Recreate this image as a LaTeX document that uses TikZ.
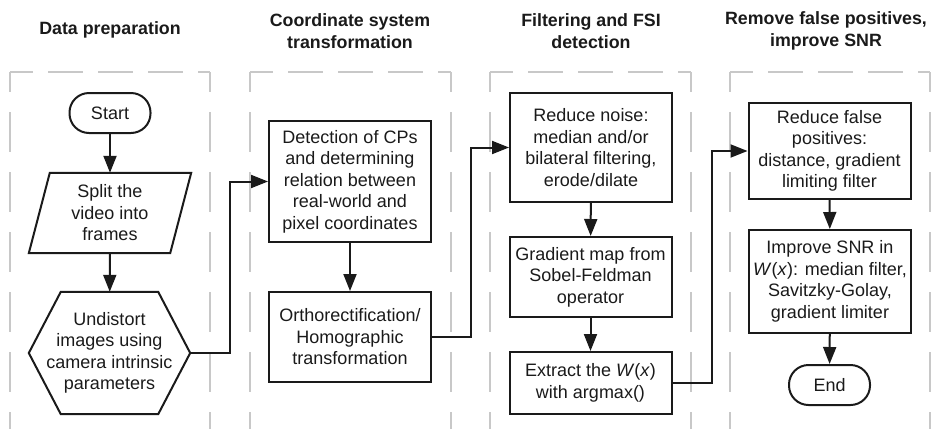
\documentclass[tikz,border=0pt]{standalone}
\usepackage{fontspec}
\setmainfont{Liberation Sans}
\usetikzlibrary{arrows.meta}
\definecolor{ink}{HTML}{1A1A1A}
\definecolor{lanegray}{HTML}{C8C8C8}
\begin{document}
\begin{tikzpicture}[x=1pt,y=-1pt,
  every node/.style={text=ink, font=\fontsize{18}{21.5}\selectfont, align=center, inner sep=0pt},
  box/.style={draw=ink, line width=2pt, rectangle, minimum width=162pt},
  term/.style={draw=ink, line width=2pt, rectangle, rounded corners=19.5pt, minimum width=81pt, minimum height=40pt},
  shell/.style={rectangle, draw=none},
  outline/.style={draw=ink, line width=2pt},
  head/.style={font=\bfseries\fontsize{17.8}{22}\selectfont},
  flow/.style={draw=ink, line width=2pt, -{Triangle[length=17pt,width=13pt]}},
  lanev/.style={draw=lanegray, line width=1.5pt, dash pattern=on 40pt off 20pt, dash phase=20pt},
  laneh/.style={draw=lanegray, line width=1.5pt, dash pattern=on 35pt off 15pt, dash phase=12pt},
]
\useasboundingbox (0,0) rectangle (933,429);

% swimlane borders (open at the bottom)
\foreach \l/\r in {10/210, 250/451, 490/691, 730/930} {
  \draw[lanev] (\l,72) -- (\l,429);
  \draw[lanev] (\r,72) -- (\r,429);
  \draw[laneh] (\l,72) -- (\r,72);
}

% lane titles
\node[head] (h1) at (110,30) {Data preparation};
\node[head] (h2) at (350,31) {Coordinate system\\transformation};
\node[head] (h3) at (591,31) {Filtering and FSI\\detection};
\node[head] (h4) at (826,31) {Remove false positives,\\improve SNR};

% lane 1: data preparation
\node[term] (start) at (110,113) {Start};
\node[shell, minimum width=162pt, minimum height=80pt] (split) at (110,213) {Split the\\video into\\frames};
\draw[outline] ([xshift=21pt]split.north west) -- (split.north east)
  -- ([xshift=-21pt]split.south east) -- (split.south west) -- cycle;
\node[shell, minimum width=161pt, minimum height=122pt] (undist) at (109.5,353)
  {Undistort\\images using\\camera intrinsic\\parameters};
\draw[outline] ([xshift=32pt]undist.north west) -- ([xshift=-32pt]undist.north east)
  -- (undist.east) -- ([xshift=-32pt]undist.south east)
  -- ([xshift=32pt]undist.south west) -- (undist.west) -- cycle;

% lane 2: coordinate transformation
\node[box, minimum height=121pt] (detect) at (350,181.5)
  {Detection of CPs\\and determining\\relation between\\real-world and\\pixel coordinates};
\node[box, minimum height=90pt] (ortho) at (350,337)
  {Orthorectification/\\Homographic\\transformation};

% lane 3: filtering and detection
\node[box, minimum height=109pt] (noise) at (591,147.5)
  {Reduce noise:\\median and/or\\bilateral filtering,\\erode/dilate};
\node[box, minimum height=80pt] (grad) at (590.5,277)
  {Gradient map from\\Sobel-Feldman\\operator};
\node[box, minimum height=62pt] (extract) at (590.5,383)
  {Extract the \textit{W}(\textit{x})\\with argmax()};

% lane 4: post-processing
\node[box, minimum height=96pt] (falsep) at (829.5,151)
  {Reduce false\\positives:\\distance, gradient\\limiting filter};
\node[box, minimum height=103pt] (snr) at (830,281.5)
  {Improve SNR in\\\textit{W}(\textit{x}): median filter,\\Savitzky-Golay,\\gradient limiter};
\node[term] (stop) at (829.5,385) {End};

% connectors
\draw[flow] (start) -- (split);
\draw[flow] (split) -- (undist);
\draw[flow] (undist.east) -- ++(40,0) |- (detect.west);
\draw[flow] (detect) -- (ortho);
\draw[flow] (ortho.east) -- ++(39,0) |- (noise.west);
\draw[flow] (noise) -- (grad);
\draw[flow] (grad) -- (extract);
\draw[flow] (extract.east) -- ++(39,0) |- (falsep.west);
\draw[flow] (falsep) -- (snr);
\draw[flow] (snr) -- (stop);
\end{tikzpicture}
\end{document}
